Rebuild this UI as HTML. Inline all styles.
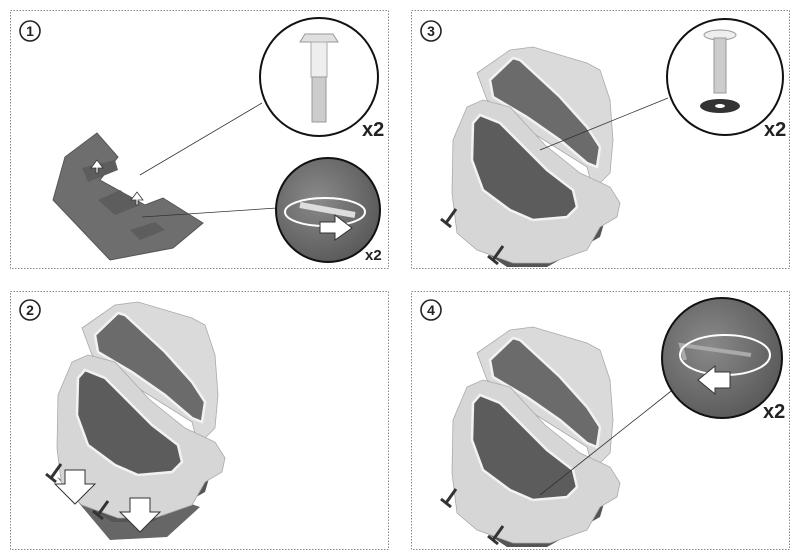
<!DOCTYPE html>
<html><head><meta charset="utf-8"><style>
html,body{margin:0;padding:0;background:#fff}
svg{display:block}
text{font-family:"Liberation Sans",sans-serif}
</style></head><body>
<svg width="800" height="559" viewBox="0 0 800 559" xmlns="http://www.w3.org/2000/svg">
<defs>
<radialGradient id="dk" cx="0.4" cy="0.4" r="0.7"><stop offset="0" stop-color="#8a8a8a"/><stop offset="1" stop-color="#555"/></radialGradient>
<g id="housing">
  <!-- underside -->
  <polygon points="455,480 460,515 507,547 547,547 600,517 605,500" fill="#555"/>
  <!-- lid -->
  <polygon points="477,353 510,330 533,327 587,343 600,350 610,380 613,420 610,453 593,470 587,447 560,430 520,405 487,380" fill="#dadada" stroke="#aaa" stroke-width="0.8"/>
  <polygon points="490,360 513,338 520,340 560,377 587,407 600,427 597,447 587,443 560,420 527,397 493,377" fill="#6b6b6b" stroke="#f2f2f2" stroke-width="2.5"/>
  <!-- bowl -->
  <polygon points="467,387 483,380 510,387 545,425 580,453 610,467 620,483 617,497 600,507 587,530 550,543 513,543 477,530 457,513 452,473 453,420" fill="#d6d6d6" stroke="#aaa" stroke-width="0.8"/>
  <polygon points="473,403 480,395 500,403 547,450 573,470 577,487 567,497 533,500 510,490 483,470 472,440" fill="#5c5c5c" stroke="#f2f2f2" stroke-width="2.5"/>
  <path d="M446,503 l10,-14 M441,499 l10,8 M493,540 l10,-14 M488,536 l10,8" stroke="#333" stroke-width="3"/>
</g>
</defs>
<g fill="none" stroke="#888" stroke-width="1" stroke-dasharray="1.5,1.5">
<rect x="10.5" y="10.5" width="378" height="258"/>
<rect x="411.5" y="10.5" width="378" height="258"/>
<rect x="10.5" y="291.5" width="378" height="258"/>
<rect x="411.5" y="291.5" width="378" height="258"/>
</g>
<g fill="#fff" stroke="#222" stroke-width="1.6">
<circle cx="30" cy="31" r="10"/><circle cx="431" cy="31" r="10"/><circle cx="30" cy="310" r="10"/><circle cx="431" cy="310" r="10"/>
</g>
<g font-size="14" font-weight="bold" text-anchor="middle" fill="#222">
<text x="30" y="36">1</text><text x="431" y="36">3</text><text x="30" y="315">2</text><text x="431" y="315">4</text>
</g>
<!-- Panel 1 -->
<polygon points="53,200 65,157 97,133 118,157 100,180 145,205 163,198 203,223 173,248 110,260" fill="#6e6e6e" stroke="#555"/>
<polygon points="82,168 115,160 118,170 88,182" fill="#5d5d5d"/>
<polygon points="98,200 120,190 140,205 115,215" fill="#5d5d5d"/>
<polygon points="130,230 155,222 165,230 140,240" fill="#5d5d5d"/>
<path d="M96,168 l-5,0 l6,-8 l6,8 l-5,0 l0,5 l-2,0z M136,200 l-5,0 l6,-8 l6,8 l-5,0 l0,5 l-2,0z" fill="#fff" stroke="#333" stroke-width="0.8"/>
<line x1="140" y1="175" x2="262" y2="103" stroke="#333" stroke-width="0.8"/>
<line x1="142" y1="217" x2="277" y2="208" stroke="#333" stroke-width="0.8"/>
<circle cx="319" cy="77" r="59" fill="#fff" stroke="#111" stroke-width="2"/>
<polygon points="305,34 333,34 338,42 300,42" fill="#e0e0e0" stroke="#999"/>
<rect x="311" y="42" width="16" height="35" fill="#eee" stroke="#aaa"/>
<rect x="312" y="77" width="14" height="45" fill="#ccc" stroke="#999"/>
<text x="362" y="136" font-size="20" font-weight="bold" fill="#222">x2</text>
<circle cx="328" cy="210" r="52" fill="url(#dk)" stroke="#111" stroke-width="2"/>
<path d="M300,205 l55,10" stroke="#ddd" stroke-width="6"/>
<ellipse cx="325" cy="212" rx="40" ry="14" fill="none" stroke="#fff" stroke-width="2"/>
<polygon points="320,222 335,222 335,215 352,228 335,240 335,233 320,233" fill="#fff" stroke="#333"/>
<text x="365" y="260" font-size="15" font-weight="bold" fill="#222">x2</text>
<!-- Panel 3 -->
<use href="#housing" transform="translate(0,-280)"/>
<line x1="540" y1="150" x2="668" y2="98" stroke="#333" stroke-width="0.8"/>
<circle cx="725" cy="77" r="58" fill="#fff" stroke="#111" stroke-width="2"/>
<ellipse cx="720" cy="35" rx="16" ry="5" fill="#eee" stroke="#999"/>
<rect x="714" y="38" width="12" height="55" fill="#ccc" stroke="#999"/>
<ellipse cx="720" cy="106" rx="20" ry="7" fill="#333"/><ellipse cx="720" cy="106" rx="5" ry="2" fill="#fff"/>
<text x="764" y="136" font-size="20" font-weight="bold" fill="#222">x2</text>
<!-- Panel 2 -->
<polygon points="57,477 110,540 167,537 200,507 180,500 120,515" fill="#666"/>
<use href="#housing" transform="translate(-395,-25)"/>
<path d="M65,470 h20 v14 h10 l-20,20 l-20,-20 h10z M130,498 h20 v14 h10 l-20,20 l-20,-20 h10z" fill="#fff" stroke="#333"/>
<!-- Panel 4 -->
<use href="#housing"/>
<line x1="540" y1="495" x2="675" y2="388" stroke="#333" stroke-width="0.8"/>
<circle cx="722" cy="358" r="60" fill="url(#dk)" stroke="#111" stroke-width="2"/>
<path d="M685,360 l-4,-15 l70,10" fill="none" stroke="#aaa" stroke-width="4"/>
<ellipse cx="725" cy="355" rx="45" ry="20" fill="none" stroke="#fff" stroke-width="2"/>
<polygon points="730,372 715,372 715,366 698,380 715,394 715,388 730,388" fill="#fff" stroke="#333"/>
<text x="763" y="418" font-size="20" font-weight="bold" fill="#222">x2</text>
</svg>
</body></html>
